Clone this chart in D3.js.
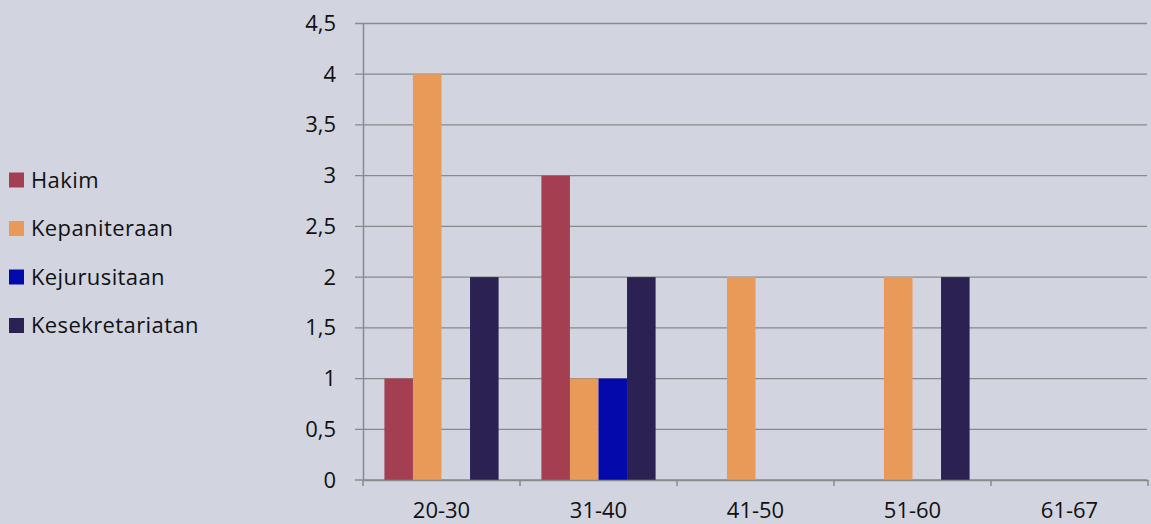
<!DOCTYPE html>
<html>
<head>
<meta charset="utf-8">
<script src="https://cdn.jsdelivr.net/npm/d3@7"></script>
<style>
  html, body { margin: 0; padding: 0; background: #d2d4e0; }
  svg { display: block; }
  text { font-family: "Open Sans", "Noto Sans", sans-serif; fill: #111; }
</style>
</head>
<body>
<svg id="chart" width="1151" height="524"></svg>
<script>
// Age groups on the x axis
const categories = ["20-30", "31-40", "41-50", "51-60", "61-67"];
// Staff counts per unit and age group
const seriesNames = ["Hakim", "Kepaniteraan", "Kejurusitaan", "Kesekretariatan"];
const hakim = [1, 3, 0, 0, 0];
const kepaniteraan = [4, 1, 2, 2, 0];
const kejurusitaan = [0, 1, 0, 0, 0];
const kesekretariatan = [2, 2, 0, 2, 0];
const yTicks = [0, 0.5, 1, 1.5, 2, 2.5, 3, 3.5, 4, 4.5];
const colors = ["#a43f52", "#e99a59", "#0309ab", "#2b2152"];

const seriesValues = [hakim, kepaniteraan, kejurusitaan, kesekretariatan];

const svg = d3.select("#chart");
const plotLeft = 363, plotRight = 1148, plotTop = 23.5, plotBottom = 480;
const fontSize = "22px";

const x0 = d3.scaleBand().domain(categories).range([plotLeft, plotRight]).paddingInner(0).paddingOuter(0);
const x1 = d3.scaleBand().domain(seriesNames).range([0, x0.bandwidth()]).paddingOuter(0.75).paddingInner(0);
const y = d3.scaleLinear().domain([0, 4.5]).range([plotBottom, plotTop]);

// Horizontal gridlines
svg.append("g")
  .selectAll("line")
  .data(yTicks)
  .join("line")
  .attr("x1", plotLeft - 8).attr("x2", plotRight - 1)
  .attr("y1", d => y(d)).attr("y2", d => y(d))
  .attr("stroke", "#8a8a8a").attr("stroke-width", 1.3);

// Bars
const groups = svg.append("g")
  .selectAll("g")
  .data(categories)
  .join("g")
  .attr("transform", d => `translate(${x0(d)},0)`);

groups.selectAll("rect")
  .data((c, i) => seriesNames.map((s, k) => ({ s, v: seriesValues[k][i], k })))
  .join("rect")
  .attr("x", d => x1(d.s))
  .attr("width", x1.bandwidth())
  .attr("y", d => y(d.v))
  .attr("height", d => y(0) - y(d.v))
  .attr("fill", d => colors[d.k]);

// Y axis
const yAxis = svg.append("g")
  .attr("transform", `translate(${plotLeft},0)`)
  .call(d3.axisLeft(y).tickValues(yTicks).tickSize(0).tickPadding(27)
    .tickFormat(d => String(d).replace(".", ",")));
yAxis.select(".domain").attr("stroke", "#8a8a8a").attr("stroke-width", 1.5);
yAxis.selectAll("text").style("font-size", fontSize).attr("fill", "#111");

// X axis
const xAxis = svg.append("g")
  .attr("transform", `translate(0,${plotBottom})`)
  .call(d3.axisBottom(x0).tickSize(0).tickPadding(22));
xAxis.select(".domain").attr("stroke", "#8a8a8a").attr("stroke-width", 1.5);
xAxis.selectAll("text").style("font-size", fontSize).attr("fill", "#111");

// Category separator ticks
svg.append("g")
  .selectAll("line")
  .data(categories.concat([null]))
  .join("line")
  .attr("x1", (d, i) => plotLeft + i * x0.step())
  .attr("x2", (d, i) => plotLeft + i * x0.step())
  .attr("y1", plotBottom).attr("y2", plotBottom + 6)
  .attr("stroke", "#8a8a8a").attr("stroke-width", 1.5);

// Legend
const legend = svg.append("g")
  .selectAll("g")
  .data(seriesNames)
  .join("g")
  .attr("transform", (d, i) => `translate(9,${180 + i * 48.5})`);
legend.append("rect")
  .attr("x", 0).attr("y", -7.5).attr("width", 15).attr("height", 15)
  .attr("fill", (d, i) => colors[i]);
legend.append("text")
  .attr("x", 22).attr("y", 0).attr("dy", "0.35em")
  .style("font-size", fontSize)
  .style("letter-spacing", "0.4px")
  .text(d => d);
</script>
</body>
</html>
